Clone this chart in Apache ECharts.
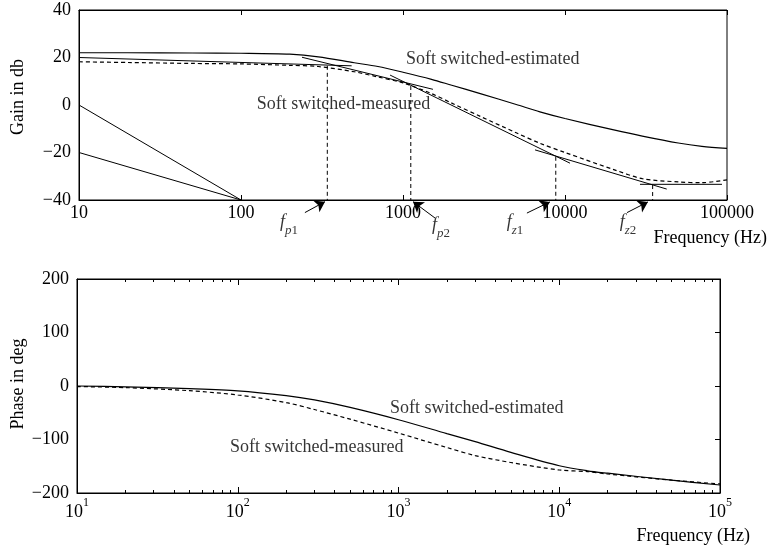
<!DOCTYPE html>
<html><head><meta charset="utf-8">
<script src="https://cdn.jsdelivr.net/npm/echarts@6/dist/echarts.min.js"></script>
<style>html,body{margin:0;padding:0;background:#fff}#c{width:768px;height:550px}</style>
</head><body><div id="c"></div>
<script>
// ---------- data: gain plot ----------
const freq = [10,20,50,100,200,300,500,700,1000,1500,2000,3000,5000,7000,10000,20000,30000,50000,70000,100000];
const gainEstimated = [22.0,22.0,21.9,21.8,21.4,20.3,17.8,16.2,13.8,10.8,8.3,4.8,0.2,-2.9,-5.7,-10.5,-13.1,-16.0,-17.4,-18.3];
const gainMeasured  = [18.2,17.9,17.5,17.3,16.7,16.2,14.0,11.8,9.3,4.8,0.8,-4.8,-11.7,-16.1,-20.0,-27.2,-31.0,-32.4,-32.7,-31.5];
const asymptotes = [
  [[10,20.0],[482,16.5]],
  [[238,20.1],[1531,6.6]],
  [[832,12.6],[10740,-24.5]],
  [[6530,-18.9],[42460,-35.4]],
  [[29040,-33.4],[93100,-33.4]]
];
const slopeRefs = [ [[10,0],[100,-40]], [[10,-20],[100,-40]] ];
const cornerFreq = [341,1117,8770,34750];
const cornerGain = [16.5,8.0,-21.8,-33.7];
const cornerSub  = ['p1','p2','z1','z2'];
const arrowTail  = [[248,-45.3],[1577,-47.6],[5820,-45.5],[24150,-45.3]];
const arrowHead  = [[330,-40.7],[1153,-40.7],[8070,-40.8],[32500,-40.8]];
const cornerLabelPos = [[198,-50.5],[1718,-51.8],[4910,-50.5],[24500,-50.5]];
const gainNotes = [['Soft switched-estimated',1045,19.4],['Soft switched-measured',125,0.4]];
const gainXTickLabels = ['10','100','1000','10000','100000'];

// ---------- data: phase plot ----------
const phaseFreq = [10,20,50,100,200,300,500,1000,2000,3000,5000,10000,15000,20000,50000,100000];
const phaseEstimated = [0,-1.5,-5,-9,-18,-26,-40,-63,-89,-104,-124,-149,-158.5,-163,-176,-185];
const phaseMeasured  = [-1,-3,-8.8,-16.8,-31,-44,-62,-88,-115,-130,-143,-157,-160,-164.5,-176,-183];
const phaseNotes = [['Soft switched-estimated',885,-41],['Soft switched-measured',89.6,-115]];
const phaseXTickExp = ['1','2','3','4','5'];
const minorTickValues = [20,30,40,50,60,70,80,90,200,300,400,500,600,700,800,900,2000,3000,4000,5000,6000,7000,8000,9000,20000,30000,40000,50000,60000,70000,80000,90000];

// ---------- chart ----------
const FONT = '"Liberation Serif","Times New Roman",serif';
const K = '#000';
const zip = (xs, ys) => xs.map((x, i) => [x, ys[i]]);
const minus = v => String(v).replace('-', '\u2212');
const decIdx = v => Math.round(Math.log10(v)) - 1;

const series = [];
const lineBase = (xi, yi, data, dashed, width) => ({
  type: 'line', xAxisIndex: xi, yAxisIndex: yi, data: data, symbol: 'none',
  lineStyle: { color: K, width: width || 1.2, type: dashed ? [4, 3] : 'solid' },
  silent: true, z: 3
});
const noteLabel = { show: true, position: 'right', distance: 0, formatter: '{b}', fontFamily: FONT, fontSize: 18, color: K, textBorderWidth: 0 };
series.push(Object.assign(lineBase(0, 0, zip(freq, gainEstimated), false), { smooth: 0.3 }));
series.push(Object.assign(lineBase(0, 0, zip(freq, gainMeasured), true), { smooth: 0.3 }));
asymptotes.forEach(s => series.push(lineBase(0, 0, s, false, 1)));
slopeRefs.forEach(s => series.push(lineBase(0, 0, s, false, 1)));
cornerFreq.forEach((f, i) => series.push(lineBase(0, 0, [[f, cornerGain[i]], [f, -40]], true, 1)));
series.push({
  type: 'lines', coordinateSystem: 'cartesian2d', xAxisIndex: 0, yAxisIndex: 0, clip: false, silent: true,
  symbol: ['none', 'arrow'], symbolSize: [6, 10],
  lineStyle: { color: K, width: 1, opacity: 1, type: 'solid' },
  data: arrowTail.map((t, i) => ({ coords: [t, arrowHead[i]] })), z: 4
});
series.push({
  type: 'scatter', xAxisIndex: 0, yAxisIndex: 0, symbolSize: 0, clip: false, silent: true,
  data: cornerLabelPos.map((p, i) => ({ value: p, sub: cornerSub[i] })),
  label: {
    show: true, position: 'inside', textBorderWidth: 0,
    formatter: p => '{f|f}{s|' + cornerSub[p.dataIndex][0] + '}{n|' + cornerSub[p.dataIndex][1] + '}',
    rich: {
      f: { fontFamily: FONT, fontSize: 18, fontStyle: 'italic', color: K, padding: [0, 0, 6, 0], textBorderWidth: 0 },
      s: { fontFamily: FONT, fontSize: 13, fontStyle: 'italic', color: K, verticalAlign: 'bottom', textBorderWidth: 0 },
      n: { fontFamily: FONT, fontSize: 13, color: K, verticalAlign: 'bottom', textBorderWidth: 0 }
    }
  }
});
series.push({
  type: 'scatter', xAxisIndex: 0, yAxisIndex: 0, symbolSize: 0, clip: false, silent: true,
  data: gainNotes.map(n => ({ value: [n[1], n[2]], name: n[0] })),
  label: noteLabel
});
// phase
series.push(Object.assign(lineBase(2, 1, zip(phaseFreq, phaseEstimated), false), { smooth: 0.3 }));
series.push(Object.assign(lineBase(2, 1, zip(phaseFreq, phaseMeasured), true), { smooth: 0.3 }));
series.push({
  type: 'scatter', xAxisIndex: 2, yAxisIndex: 1, symbolSize: 0, clip: false, silent: true,
  data: phaseNotes.map(n => ({ value: [n[1], n[2]], name: n[0] })),
  label: noteLabel
});

const logAxis = (grid, pos, opts) => Object.assign({
  type: 'log', logBase: 10, gridIndex: grid, position: pos, min: 10, max: 100000,
  splitLine: { show: false }, axisLine: { show: true, onZero: false, lineStyle: { color: K, width: 1 } },
  axisTick: { show: true, inside: true, length: 5, lineStyle: { color: K } },
  axisLabel: { show: false }
}, opts || {});

const option = {
  animation: false,
  backgroundColor: '#fff',
  textStyle: { fontFamily: FONT },
  grid: [
    { left: 79, top: 10, width: 648, height: 190, show: true, borderColor: K, borderWidth: 1, containLabel: false },
    { left: 77, top: 279, width: 643, height: 214, show: true, borderColor: K, borderWidth: 1, containLabel: false }
  ],
  xAxis: [
    logAxis(0, 'bottom', { axisLabel: { show: true, margin: 4, fontFamily: FONT, fontSize: 18, color: K,
      formatter: v => gainXTickLabels[decIdx(v)] } }),
    logAxis(0, 'top'),
    logAxis(1, 'bottom', { axisTick: { show: true, inside: true, length: 6, lineStyle: { color: K } },
      axisLabel: { show: true, margin: 4, color: K,
        formatter: v => '{b|10}{s|' + phaseXTickExp[decIdx(v)] + '}',
        rich: { b: { fontFamily: FONT, fontSize: 18, lineHeight: 24, color: K, verticalAlign: 'bottom' },
                s: { fontFamily: FONT, fontSize: 12, lineHeight: 12, color: K, verticalAlign: 'top' } } } }),
    logAxis(1, 'top', { axisTick: { show: true, inside: true, length: 6, lineStyle: { color: K } } }),
    logAxis(1, 'bottom', { axisLine: { show: false, onZero: false }, axisTick: { show: true, inside: true, length: 3, customValues: minorTickValues, lineStyle: { color: K } } }),
    logAxis(1, 'top', { axisLine: { show: false, onZero: false }, axisTick: { show: true, inside: true, length: 3, customValues: minorTickValues, lineStyle: { color: K } } })
  ],
  yAxis: [
    { type: 'value', gridIndex: 0, min: -40, max: 40, interval: 20, position: 'left',
      splitLine: { show: false }, axisLine: { show: true, onZero: false, lineStyle: { color: K } }, axisTick: { show: false },
      axisLabel: { margin: 8, fontFamily: FONT, fontSize: 18, color: K, formatter: minus } },
    { type: 'value', gridIndex: 1, min: -200, max: 200, interval: 100, position: 'left',
      splitLine: { show: false }, axisLine: { show: true, onZero: false, lineStyle: { color: K } }, axisTick: { show: false },
      axisLabel: { margin: 8, fontFamily: FONT, fontSize: 18, color: K, formatter: minus } },
    { type: 'value', gridIndex: 1, min: -200, max: 200, interval: 100, position: 'right',
      splitLine: { show: false }, axisLine: { show: true, onZero: false, lineStyle: { color: K } },
      axisTick: { show: true, inside: true, length: 5, lineStyle: { color: K } }, axisLabel: { show: false } }
  ],
  graphic: [
    { type: 'text', x: 18, y: 97, rotation: Math.PI / 2, style: { text: 'Gain in db', font: '18px ' + FONT, fill: K, align: 'center', verticalAlign: 'middle' } },
    { type: 'text', x: 18, y: 384, rotation: Math.PI / 2, style: { text: 'Phase in deg', font: '18px ' + FONT, fill: K, align: 'center', verticalAlign: 'middle' } },
    { type: 'text', x: 767, y: 238, style: { text: 'Frequency (Hz)', font: '18px ' + FONT, fill: K, align: 'right', verticalAlign: 'middle' } },
    { type: 'text', x: 750, y: 536, style: { text: 'Frequency (Hz)', font: '18px ' + FONT, fill: K, align: 'right', verticalAlign: 'middle' } }
  ],
  series: series
};
const chart = echarts.init(document.getElementById('c'));
chart.setOption(option);
</script>
</body></html>
